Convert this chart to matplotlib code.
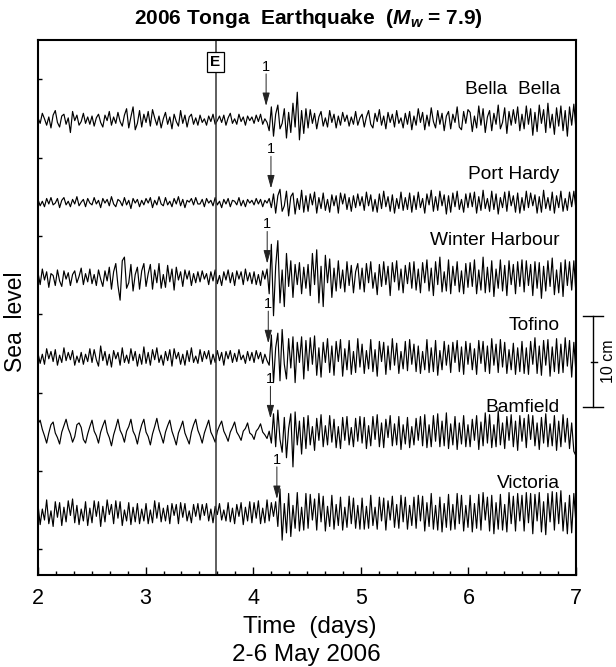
import numpy as np
import matplotlib
matplotlib.use('Agg')
import matplotlib.pyplot as plt

plt.rcParams['font.family'] = ['Liberation Sans', 'DejaVu Sans']
plt.rcParams['mathtext.fontset'] = 'custom'
plt.rcParams['mathtext.it'] = 'Liberation Sans:bold:italic'
plt.rcParams['mathtext.rm'] = 'Liberation Sans:bold'

# tide gauge stations, north to south
stations = ['Bella  Bella', 'Port Hardy', 'Winter Harbour', 'Tofino', 'Bamfield', 'Victoria']
# first tsunami wave arrival (days)
arrivals = [4.12, 4.165, 4.13, 4.14, 4.16, 4.22]
t_event = 3.65

# de-tided sea level residuals (mm), 0.02 day sampling, 2-7 May
bella = [2,-4,7,1,-6,3,-9,5,10,-3,-8,4,6,-5,2,-14,9,-1,5,-6,-2,7,-4,3,-5,
         4,-7,2,6,-3,-8,5,-1,9,-6,3,-4,8,-2,-7,5,12,-9,3,14,-11,-4,10,-8,6,
         -3,9,-7,11,2,-6,4,-9,1,8,-5,3,-10,6,-2,-7,10,-4,5,-8,3,6,-5,2,-6,
         5,-3,1,-6,4,-2,6,-5,-1,4,-3,5,-6,2,7,-4,1,-5,6,-2,3,-6,4,-1,3,
         -4,5,-2,6,-5,1,-3,-12,14,-18,6,16,-10,-4,12,-20,8,-14,18,-8,30,-22,10,-15,12,
         -9,11,-4,7,-10,3,9,-7,2,-8,10,-3,6,-9,4,-6,8,-2,5,-7,3,-5,9,-6,2,
         6,-8,3,10,-5,-9,7,-2,11,-6,4,-10,8,-3,6,-8,10,-4,2,-9,7,-5,9,-11,4,
         -6,12,-3,8,-11,5,-7,13,-2,-9,10,-5,7,-12,4,9,-10,6,-3,14,-8,-11,9,-4,11,
         8,-13,4,-9,15,-6,12,-14,3,10,-12,7,-5,16,-10,-3,13,-15,9,-6,11,-4,14,-12,6,
         -10,15,-5,12,-17,8,-13,16,-4,11,-14,18,-9,6,-16,13,-7,15,-12,10,-18,14,-6,17,-11]

port_hardy = [3,-4,1,-5,4,-2,5,-3,-1,4,-6,2,5,-3,1,-5,3,-2,6,-4,0,3,-5,4,-1,
              -3,5,-2,2,-6,4,-1,3,-4,6,-2,-5,3,1,-4,5,-3,2,-7,4,-1,3,-5,2,-3,
              4,-1,5,-6,2,-3,6,-2,-4,5,-3,1,-5,4,-2,6,-4,3,-6,2,0,4,-3,5,-2,
              -2,3,-5,4,-1,2,-4,5,-3,1,-6,3,-2,4,-5,2,1,-3,5,-4,2,-5,3,-1,2,
              -3,4,-2,3,-5,2,-1,4,-6,9,-12,7,14,-10,-4,12,-15,6,10,-13,4,-8,13,-11,7,
              -10,9,-3,11,-12,5,-7,10,-9,3,-11,8,-4,7,-12,10,-2,9,-8,5,-10,7,-6,9,-4,
              6,-9,11,-4,8,-10,3,-11,9,-7,12,-5,6,-10,8,-12,4,-7,11,-9,5,-8,10,-11,7,
              -8,11,-6,4,-12,9,-3,13,-10,6,-9,12,-4,8,-13,7,-11,10,-5,12,-8,3,-11,9,-6,
              10,-5,11,-12,6,-9,13,-7,4,-10,12,-8,9,-13,5,-6,11,-10,12,-4,7,-11,10,-12,5,
              -9,12,-6,10,-4,8,-12,6,-11,13,-7,5,-9,11,-12,7,-6,12,-10,4,-9,11,-5,12,-8]

winter_harbour = [5,-8,9,-3,6,-11,4,2,-9,8,-4,-10,7,-2,5,-9,3,7,-6,1,10,-8,4,-5,9,
                  -7,3,-9,8,-2,-10,7,-4,11,-13,6,15,-9,-25,18,22,-12,-6,14,-15,3,11,-13,7,15,
                  -10,4,14,-13,8,-6,15,-12,3,-11,13,-5,9,-14,11,-3,6,-10,8,-2,7,-9,4,-6,6,
                  -5,7,-2,4,-8,6,-4,8,-7,2,-9,6,-3,8,-6,5,-9,7,-2,6,-8,9,-4,5,-7,
                  6,-8,3,-9,7,-2,9,-18,36,-42,12,40,-28,8,-32,26,-10,18,-22,14,-8,16,-18,11,-12,
                  14,-20,26,-8,30,-28,12,-32,24,-6,20,-22,10,-15,18,-12,8,-16,17,-9,13,-17,6,15,-13,
                  10,-16,15,-6,17,-12,5,-19,14,-10,17,-8,12,-20,16,-5,18,-14,9,-17,13,-7,16,-12,17,
                  -14,9,-17,16,-6,19,-15,10,-20,17,-8,22,-16,6,-15,19,-18,12,-9,17,-16,7,-18,15,-11,
                  16,-10,19,-18,8,-14,22,-17,11,-16,18,-21,9,-12,19,-15,13,-20,18,-8,14,-18,17,-10,19,
                  -16,18,-9,14,-20,17,-12,16,-23,12,-15,18,-10,21,-19,8,-17,16,-21,19,-9,17,-14,18,-19]

tofino = [4,-7,3,-8,9,-2,6,-5,8,-9,2,-6,10,-4,5,-3,7,-9,1,-6,5,-8,3,-5,9,
          -6,8,-3,-10,12,-4,6,-9,3,-11,7,-2,5,-9,10,-6,2,-7,9,-4,6,-10,3,-8,11,
          -7,5,-9,8,-3,10,-6,2,-9,6,-4,8,-10,9,-2,5,-8,3,-9,7,-5,10,-6,1,-7,
          8,-5,6,-2,7,-8,3,-6,7,-4,5,-9,6,-2,7,-6,4,-5,8,-3,2,-7,6,-4,5,
          -6,7,-2,5,-7,3,-4,-9,24,-28,10,26,-26,30,-8,-24,20,-12,22,-28,16,-6,22,-24,18,
          -15,21,-8,23,-20,10,-22,16,-6,20,-17,12,-20,17,-5,19,-21,9,-14,18,-19,6,-17,20,-11,
          14,-18,7,-13,19,-16,8,-21,17,-5,16,-19,12,-14,20,-9,15,-18,6,-13,17,-15,19,-8,14,
          -16,12,-18,6,-14,19,-17,10,-16,18,-20,7,-14,17,-9,13,-17,16,-6,18,-16,11,-19,17,-8,
          15,-14,9,-19,18,-7,17,-16,12,-18,20,-9,14,-17,19,-11,16,-18,8,-14,15,-19,10,-16,17,
          -18,10,-19,17,-8,21,-18,12,-20,18,-9,19,-21,11,-16,20,-18,14,-17,21,-10,18,-22,16,-18]

bamfield = [9,13,3,-4,-12,-1,8,11,-1,-6,-13,0,7,14,4,-2,-11,-5,8,10,5,-8,-12,-2,6,
            13,1,-4,-12,0,7,13,0,-6,-15,-3,5,14,2,-3,-11,1,6,14,1,-4,-13,-1,8,14,
            0,-5,-14,-2,6,15,3,-4,-12,0,7,13,1,-6,-14,-1,5,12,-1,-7,-13,0,8,14,2,
            -4,-12,-1,6,13,0,-5,-11,1,7,12,1,-4,-10,0,5,11,0,-4,-9,1,4,10,-1,-3,
            -8,1,4,9,0,-3,-7,1,-12,20,-16,24,-8,-22,16,-28,4,20,-38,22,-14,12,-24,16,-18,
            18,-14,6,-20,15,-9,19,-16,7,-14,18,-11,14,-17,6,-18,16,-9,17,-14,5,-16,15,-10,17,
            -12,16,-18,7,-15,17,-8,19,-16,10,-17,14,-6,18,-15,9,-14,17,-19,8,-13,16,-17,6,-14,
            15,-9,17,-15,19,-17,8,-16,18,-10,20,-16,12,-15,21,-18,9,-14,17,-19,10,-13,18,-16,8,
            -16,14,-9,18,-19,11,-15,21,-12,19,-17,8,-16,23,-14,10,-18,17,-9,19,-16,12,-20,18,-10,
            15,-17,19,-8,18,-15,10,-19,16,-12,20,-16,9,-15,18,-20,12,-16,19,-11,15,-18,10,-21,-26]

victoria = [9,-13,4,-8,14,-12,2,-15,12,-5,11,-14,6,-10,13,-3,15,-11,8,-13,4,-9,12,-14,5,
            -11,13,-4,12,-15,7,-10,14,-2,9,-12,13,-6,12,-14,3,-9,11,-13,6,-10,10,-12,4,-9,
            10,-12,3,-11,13,-6,11,-10,5,-9,8,-12,10,-3,9,-12,11,-5,10,-9,2,-11,9,-4,10,
            -8,9,-3,10,-9,4,-11,7,-2,10,-8,3,-9,11,-10,5,-12,9,-4,11,-13,6,-9,12,-11,
            11,-6,13,-12,5,-11,14,-9,11,-4,12,-15,26,-30,10,-22,21,-26,8,-17,22,-20,6,-19,21,
            -17,20,-8,15,-19,21,-10,18,-20,7,-15,19,-18,9,-14,17,-19,6,-16,18,-12,16,-17,8,-18,
            16,-18,7,-17,19,-14,6,-18,17,-9,16,-19,13,-8,18,-16,9,-17,19,-10,17,-18,8,-14,17,
            -17,19,-9,18,-20,11,-15,21,-18,8,-19,17,-21,10,-16,20,-19,9,-18,21,-12,19,-20,8,-16,
            19,-21,10,-17,20,-19,22,-8,17,-20,19,-23,11,-18,20,-19,9,-21,22,-12,18,-20,21,-9,19,
            -20,22,-11,21,-23,20,-9,22,-21,12,-24,21,-10,23,-19,22,-12,24,-20,11,-23,19,-22,21,-13]

records = [bella, port_hardy, winter_harbour, tofino, bamfield, victoria]

# vertical offsets of each trace (cm) and label heights above it
offsets = [49.7, 40.7, 32.5, 23.8, 15.6, 6.8]
label_dy = [3.3, 3.0, 4.0, 3.4, 2.7, 3.2]

fig = plt.figure(figsize=(6.16, 6.67), dpi=100)
ax = fig.add_axes([38/616, 92/667, 538/616, 535/667])

for name, rec, base, dy, ta in zip(stations, records, offsets, label_dy, arrivals):
    h = np.array(rec) / 10.0
    t = np.linspace(2, 7, len(h))
    ax.plot(t, base + h, color='black', lw=0.85)
    ax.text(6.85, base + dy, name, ha='right', va='center', fontsize=13.8)
    ax.annotate('', xy=(ta, base + 1.5), xytext=(ta, base + 5.0),
                arrowprops=dict(arrowstyle='-|>,head_length=0.8,head_width=0.22',
                                color='#222222', lw=0.7, shrinkA=0, shrinkB=0))
    ax.text(ta, base + 5.8, '1', ha='center', va='center', fontsize=10.5)

# earthquake time
ax.axvline(t_event, color='#333333', lw=1.1)
ax.text(t_event, 56.0, 'E', ha='center', va='center', fontsize=11, fontweight='bold',
        bbox=dict(boxstyle='square,pad=0.2', fc='white', ec='black', lw=0.9))

ax.set_xlim(2, 7)
ax.set_ylim(0, 58.4)
ax.set_xticks([2, 3, 4, 5, 6, 7])
ax.set_xticks(np.arange(2, 7.01, 1/6), minor=True)
ax.set_yticks(np.arange(2.8, 58, 8.55))
ax.set_yticklabels([])
ax.tick_params(axis='x', which='major', direction='in', length=6, width=1, labelsize=15.5, pad=9)
ax.tick_params(axis='x', which='minor', direction='in', length=3, width=1)
ax.tick_params(axis='y', direction='in', length=3, width=1)
for s in ax.spines.values():
    s.set_linewidth(1.5)

# 10 cm scale bar
sx = 7.158
ax.plot([sx, sx], [18.3, 28.3], color='black', lw=1, clip_on=False)
for yy in (18.3, 28.3):
    ax.plot([sx - 0.093, sx + 0.093], [yy, yy], color='black', lw=1, clip_on=False)
ax.plot([sx - 0.02, sx + 0.04], [23.3, 23.3], color='black', lw=1, clip_on=False)
ax.text(7.30, 23.3, '10 cm', rotation=90, ha='center', va='center', fontsize=11.5, clip_on=False)

fig.text(308/616, 1 - 19/667, '2006 Tonga  Earthquake  ($M_w$ = 7.9)', ha='center', va='center',
         fontsize=15, fontweight='bold')
fig.text(16/616, 1 - 322/667, 'Sea  level', rotation=90, ha='center', va='center', fontsize=16.5)
fig.text(310/616, 1 - 627/667, 'Time  (days)', ha='center', va='center', fontsize=17.5)
fig.text(306/616, 1 - 655/667, '2-6 May 2006', ha='center', va='center', fontsize=17.5)

fig.savefig('out.png', dpi=100)
